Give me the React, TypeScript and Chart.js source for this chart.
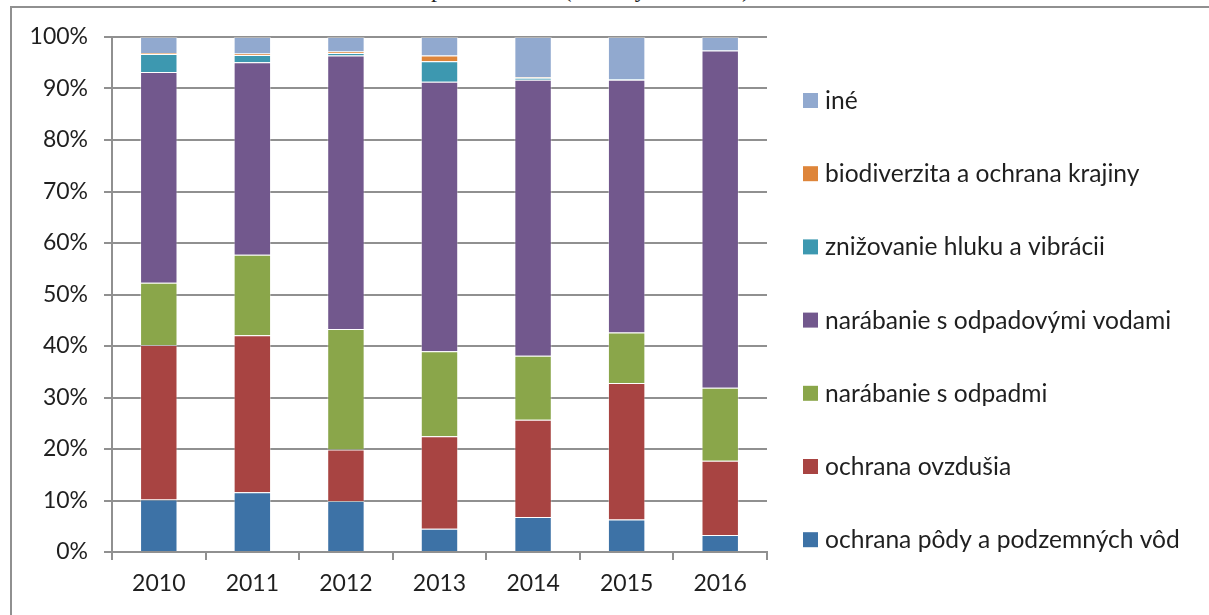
import React, { useEffect, useRef } from "react";
import { Chart, registerables } from "chart.js";

Chart.register(...registerables);

const years = ["2010", "2011", "2012", "2013", "2014", "2015", "2016"];

const soilWater = [10.2, 11.6, 9.9, 4.5, 6.8, 6.3, 3.3];
const air = [30.0, 30.5, 10.0, 18.0, 18.9, 26.5, 14.4];
const waste = [12.1, 15.6, 23.4, 16.5, 12.4, 9.8, 14.2];
const wasteWater = [40.9, 37.4, 53.1, 52.3, 53.6, 49.1, 65.5];
const noise = [3.5, 1.4, 0.5, 4.0, 0.4, 0.1, 0.0];
const biodiversity = [0.2, 0.3, 0.3, 1.1, 0.1, 0.0, 0.0];
const other = [3.1, 3.2, 2.8, 3.6, 7.8, 8.2, 2.6];

const seriesLabels = [
  "ochrana pôdy a podzemných vôd",
  "ochrana ovzdušia",
  "narábanie s odpadmi",
  "narábanie s odpadovými vodami",
  "znižovanie hluku a vibrácii",
  "biodiverzita a ochrana krajiny",
  "iné",
];
const seriesColors = ["#3D72A6", "#A84442", "#8AA64A", "#72588D", "#3D98B0", "#DE853A", "#91A9CF"];
const seriesValues = [soilWater, air, waste, wasteWater, noise, biodiversity, other];

const yTicks = [0, 10, 20, 30, 40, 50, 60, 70, 80, 90, 100];

const FONT = "Lato, 'Noto Sans', sans-serif";
const TEXT = "#1f1f1f";
const GRID = "#909090";

const rightLegend = {
  id: "rightLegend",
  afterDraw(chart: any) {
    const ctx = chart.ctx;
    const ds = chart.data.datasets;
    ctx.save();
    ctx.font = `24.6px ${FONT}`;
    ctx.textBaseline = "middle";
    for (let i = 0; i < ds.length; i++) {
      const d = ds[ds.length - 1 - i];
      const y = 100 + i * 73.2;
      ctx.fillStyle = d.backgroundColor;
      ctx.fillRect(803, y - 7, 15, 15);
      ctx.fillStyle = TEXT;
      ctx.fillText(d.label, 825, y + 1);
    }
    ctx.restore();
  },
};

function App() {
  const ref = useRef<HTMLCanvasElement | null>(null);

  useEffect(() => {
    if (!ref.current) return;
    const chart = new Chart(ref.current, {
      type: "bar",
      data: {
        labels: years,
        datasets: seriesValues.map((vals, i) => ({
          label: seriesLabels[i],
          data: vals,
          backgroundColor: seriesColors[i],
          borderColor: "rgba(255,255,255,0.35)",
          borderWidth: 1,
          barPercentage: 0.4,
          categoryPercentage: 1,
        })),
      },
      options: {
        animation: false,
        responsive: false,
        maintainAspectRatio: false,
        layout: { padding: { top: 37, right: 442, left: 0, bottom: 0 } },
        plugins: {
          legend: { display: false },
          tooltip: { enabled: false },
          title: { display: false },
        },
        scales: {
          x: {
            stacked: true,
            afterFit: (s: any) => {
              s.height = 63;
            },
            grid: {
              display: true,
              drawOnChartArea: false,
              drawTicks: true,
              tickLength: 8,
              color: GRID,
              lineWidth: 2,
            },
            border: { display: true, color: GRID, width: 2 },
            ticks: {
              color: TEXT,
              font: { family: FONT, size: 23 },
              padding: 10,
            },
          },
          y: {
            stacked: true,
            min: 0,
            max: 100,
            afterFit: (s: any) => {
              s.width = 112;
            },
            afterBuildTicks: (s: any) => {
              s.ticks = yTicks.map((v) => ({ value: v }));
            },
            grid: {
              color: GRID,
              lineWidth: 2,
              drawTicks: true,
              tickLength: 8,
            },
            border: { display: true, color: GRID, width: 2 },
            ticks: {
              color: TEXT,
              font: { family: FONT, size: 23 },
              padding: 16,
              callback: (v: any) => `${v}%`,
            },
          },
        },
      },
      plugins: [rightLegend],
    });
    return () => chart.destroy();
  }, []);

  return (
    <div
      style={{
        position: "fixed",
        left: 0,
        top: 0,
        width: 1209,
        height: 615,
        overflow: "hidden",
        background: "#fff",
      }}
    >
      <div
        style={{
          position: "absolute",
          right: 1209 - 750,
          top: -24,
          whiteSpace: "nowrap",
          fontFamily: "'Liberation Serif', serif",
          fontSize: 24,
          color: "#222",
        }}
      >
        podľa oblastí (v bežných cenách)
      </div>
      <div
        style={{
          position: "absolute",
          left: 10,
          top: 6,
          width: 1400,
          height: 800,
          borderLeft: `2px solid ${GRID}`,
          borderTop: `2px solid ${GRID}`,
        }}
      />
      <canvas
        ref={ref}
        width={1209}
        height={615}
        style={{ position: "absolute", left: 0, top: 0, width: 1209, height: 615 }}
      />
    </div>
  );
}

export default App;
